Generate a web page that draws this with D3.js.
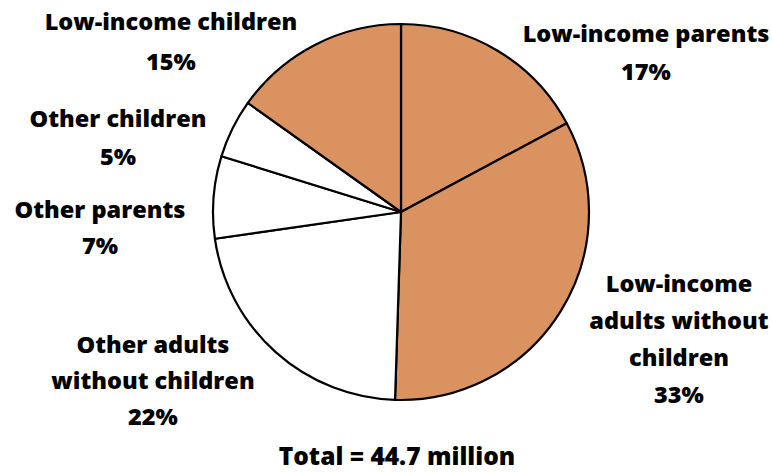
<!DOCTYPE html>
<html><head><meta charset="utf-8">
<script src="https://cdn.jsdelivr.net/npm/d3@7"></script>
<style>body{margin:0;background:#fff}svg{display:block}text{font-family:"Open Sans",Lato,sans-serif;font-weight:800;fill:#000}</style>
</head><body><svg id="c" width="772" height="472"></svg>
<script>
const categories = ["Low-income parents","Low-income adults without children","Other adults without children","Other parents","Other children","Low-income children"];
const values = [17,33,22,7,5,15];
const lowIncome = [true,true,false,false,false,true];
const labelLines = [["Low-income parents","17%"],["Low-income","adults without","children","33%"],["Other adults","without children","22%"],["Other parents","7%"],["Other children","5%"],["Low-income children","15%"]];
const labelPos = [[646,42,38],[679,292,37],[153,353,36],[100,218,36],[118,127,38],[171,30,40]];
const totalLabel = "Total = 44.7 million";

const svg = d3.select("#c");
const cx=401, cy=212, r=188;
const pie = d3.pie().sort(null).value(d=>d)(values);
const arc = d3.arc().innerRadius(0).outerRadius(r);
const g = svg.append("g").attr("transform",`translate(${cx},${cy})`);
g.selectAll("path").data(pie).join("path").attr("d",arc)
 .attr("fill",(d,i)=>lowIncome[i]?"#d99260":"#fff")
 .attr("stroke","#000").attr("stroke-width",2.2).attr("stroke-linejoin","round");
categories.forEach((c,i)=>{
  const [x,y,dy]=labelPos[i];
  const t=svg.append("text").attr("text-anchor","middle").attr("font-size",23.5);
  labelLines[i].forEach((l,j)=>t.append("tspan").attr("x",x).attr("y",y+j*dy).text(l));
});
svg.append("text").attr("x",397).attr("y",465).attr("text-anchor","middle").attr("font-size",24.5).text(totalLabel);
</script></body></html>
